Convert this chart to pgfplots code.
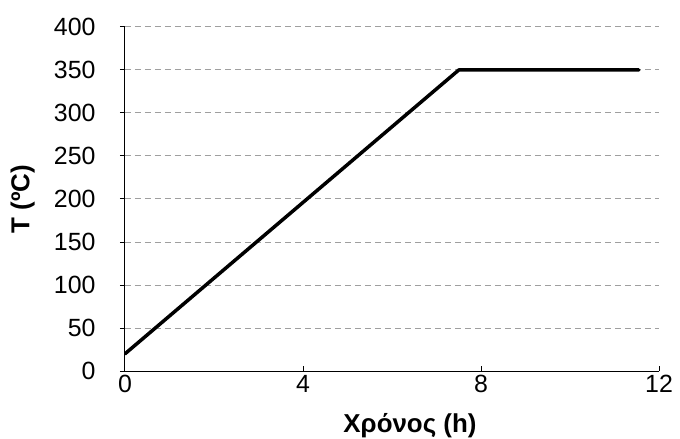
\documentclass[border=0pt]{standalone}
\usepackage{pgfplots}
\pgfplotsset{compat=1.18}
\usepackage{fontspec}
\setmainfont{Liberation Sans}
\begin{document}
\begin{tikzpicture}
\useasboundingbox (-125bp,-68bp) rectangle (555bp,371bp);
\begin{axis}[
  scale only axis, width=534bp, height=344bp,
  at={(0,0)}, anchor=south west,
  xmin=0, xmax=12, ymin=0, ymax=400,
  xtick={0,4,8,12}, ytick={0,50,...,400},
  axis x line*=bottom, axis y line*=left,
  axis line style={-, line width=1bp, black},
  xtick align=inside, ytick align=outside,
  major tick length=5bp,
  tick style={black, line width=1bp},
  ymajorgrids,
  major grid style={gray!75, dashed, dash pattern=on 6bp off 4bp, line width=1bp},
  /pgf/number format/assume math mode=true,
  tick label style={font=\fontsize{25}{30}\selectfont},
  label style={font=\fontsize{26}{30}\selectfont\bfseries},
  xlabel={Χρόνος (h)},
  ylabel={T (ºC)},
  xlabel style={at={(axis description cs:0.5,0)}, anchor=south, yshift=-70bp, xshift=18bp},
  ylabel style={at={(axis description cs:0,0.5)}, anchor=north, yshift=118bp},
  xticklabel style={anchor=north, yshift=-1bp},
  yticklabel style={anchor=east, xshift=-21bp},
]
\addplot[black, line width=3.5bp, line cap=round, line join=round] coordinates {(0,20) (7.5,350) (11.55,350)};
\end{axis}
\end{tikzpicture}
\end{document}
